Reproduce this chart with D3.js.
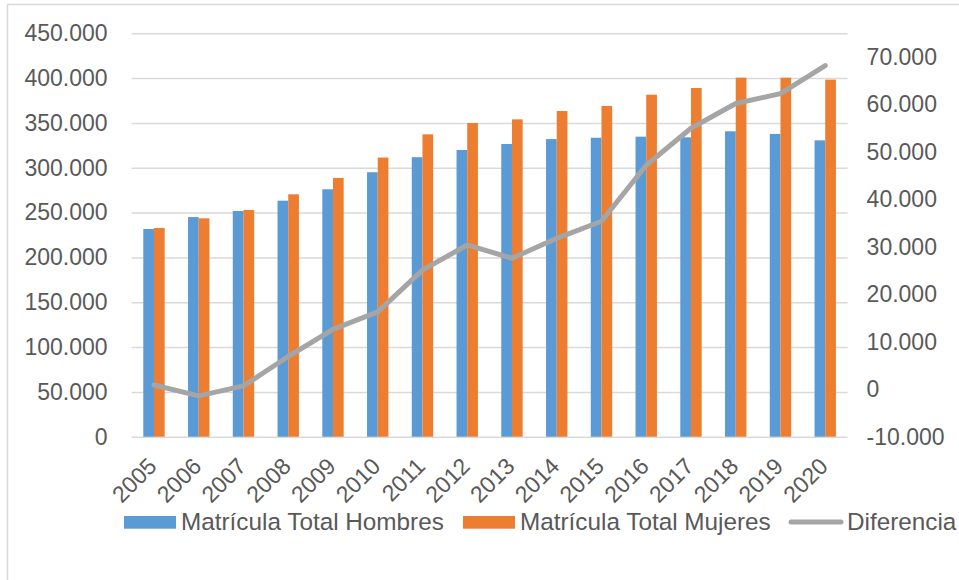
<!DOCTYPE html>
<html>
<head>
<meta charset="utf-8">
<script src="https://cdn.jsdelivr.net/npm/d3@7"></script>
<style>
  body { margin: 0; background: #fff; }
  svg { display: block; font-family: "Liberation Sans", Arial, sans-serif; }
</style>
</head>
<body>
<svg id="chart" width="959" height="580"></svg>
<script>
const years = ["2005", "2006", "2007", "2008", "2009", "2010", "2011", "2012",
               "2013", "2014", "2015", "2016", "2017", "2018", "2019", "2020"];
const hombres = [231700, 245000, 251800, 263300, 276000, 295000, 311800, 319800,
                 326500, 332000, 333500, 334700, 334000, 340700, 337700, 330600];
const mujeres = [232800, 243600, 252900, 270400, 288600, 311400, 337300, 349900,
                 354000, 363300, 368900, 381500, 389000, 400500, 400500, 398300];
const diferencia = [900, -1400, 700, 6900, 12600, 16300, 25100, 30400,
                    27600, 31800, 35400, 47200, 55000, 60200, 62300, 68200];
const leftTicks = [0, 50000, 100000, 150000, 200000, 250000, 300000, 350000, 400000, 450000];
const rightTicks = [-10000, 0, 10000, 20000, 30000, 40000, 50000, 60000, 70000];

const colors = { h: "#5B9BD5", m: "#ED7D31", d: "#A5A5A5" };
const textColor = "#595959";

const locale = d3.formatLocale({ decimal: ",", thousands: ".", grouping: [3], currency: ["", ""], minus: "-" });
const fmt = locale.format(",");

const svg = d3.select("#chart");

// chart frame
svg.append("rect")
    .attr("x", 7.5).attr("y", 4.5)
    .attr("width", 1000).attr("height", 1000)
    .attr("fill", "none")
    .attr("stroke", "#D9D9D9")
    .attr("stroke-width", 1.5);

const plot = { left: 131.6, right: 847.6, top: 33.3, bottom: 436.7 };

const x = d3.scaleBand()
    .domain(years)
    .range([plot.left, plot.right])
    .paddingInner(0.522)
    .paddingOuter(0.261);

const xSub = d3.scaleBand()
    .domain(["h", "m"])
    .range([0, x.bandwidth()]);

const yLeft = d3.scaleLinear().domain([0, 450000]).range([plot.bottom, plot.top]);
const yRight = d3.scaleLinear().domain([-10000, 75000]).range([plot.bottom, plot.top]);

// left axis with gridlines
const gLeft = svg.append("g")
    .attr("transform", `translate(${plot.left},0)`)
    .call(d3.axisLeft(yLeft)
        .tickValues(leftTicks)
        .tickFormat(fmt)
        .tickSizeInner(-(plot.right - plot.left))
        .tickSizeOuter(0)
        .tickPadding(24));
gLeft.select(".domain").remove();
gLeft.selectAll("line").attr("stroke", "#D9D9D9").attr("stroke-width", 1.5);
gLeft.selectAll("text")
    .attr("fill", textColor)
    .style("font-size", "23px");

// right axis
const gRight = svg.append("g")
    .attr("transform", `translate(${plot.right},0)`)
    .call(d3.axisRight(yRight)
        .tickValues(rightTicks)
        .tickFormat(fmt)
        .tickSize(0)
        .tickPadding(19));
gRight.select(".domain").remove();
gRight.selectAll("text")
    .attr("fill", textColor)
    .style("font-size", "23px");

// bars
const rows = years.map((yr, i) => ({ year: yr, h: hombres[i], m: mujeres[i] }));

const groups = svg.append("g").selectAll("g")
    .data(rows)
    .enter()
    .append("g")
    .attr("transform", d => `translate(${x(d.year)},0)`);

groups.selectAll("rect")
    .data(d => ["h", "m"].map(k => ({ key: k, value: d[k] })))
    .enter()
    .append("rect")
    .attr("x", d => xSub(d.key))
    .attr("y", d => yLeft(d.value))
    .attr("width", xSub.bandwidth())
    .attr("height", d => yLeft(0) - yLeft(d.value))
    .attr("fill", d => colors[d.key]);

// difference line
const line = d3.line()
    .x((d, i) => x(years[i]) + x.bandwidth() / 2)
    .y(d => yRight(d));

svg.append("path")
    .datum(diferencia)
    .attr("d", line)
    .attr("fill", "none")
    .attr("stroke", colors.d)
    .attr("stroke-width", 5)
    .attr("stroke-linejoin", "round")
    .attr("stroke-linecap", "round");

// x axis labels
const gX = svg.append("g")
    .attr("transform", `translate(0,${plot.bottom})`)
    .call(d3.axisBottom(x).tickSize(0));
gX.select(".domain").remove();
gX.selectAll("text")
    .attr("x", 0).attr("y", 0).attr("dy", null)
    .attr("transform", "translate(4,31) rotate(-45)")
    .attr("text-anchor", "end")
    .attr("fill", textColor)
    .style("font-size", "23px");

// legend
const legend = svg.append("g").style("font-size", "24.3px").attr("fill", textColor);

legend.append("rect").attr("x", 124).attr("y", 516).attr("width", 52).attr("height", 12.7).attr("fill", colors.h);
legend.append("text").attr("x", 181).attr("y", 530).text("Matrícula Total Hombres");

legend.append("rect").attr("x", 463).attr("y", 516).attr("width", 52).attr("height", 12.7).attr("fill", colors.m);
legend.append("text").attr("x", 520).attr("y", 530).text("Matrícula Total Mujeres");

legend.append("line")
    .attr("x1", 791).attr("x2", 841).attr("y1", 522).attr("y2", 522)
    .attr("stroke", colors.d).attr("stroke-width", 5).attr("stroke-linecap", "round");
legend.append("text").attr("x", 847).attr("y", 530).text("Diferencia");
</script>
</body>
</html>
